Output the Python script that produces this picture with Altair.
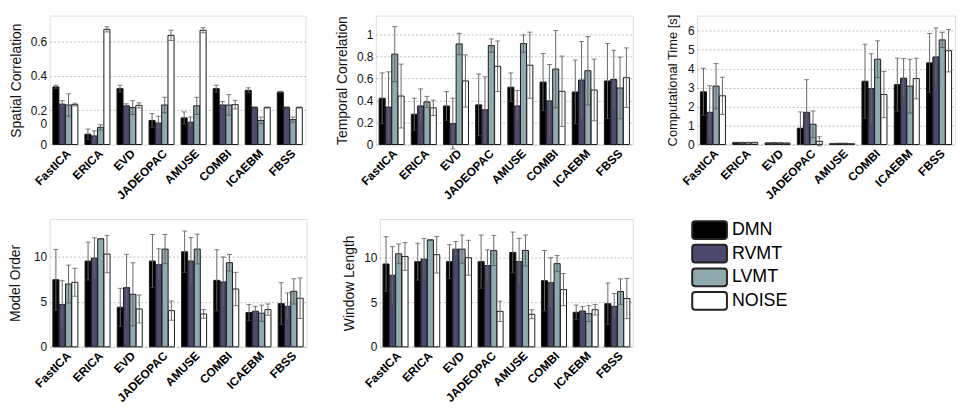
import altair as alt
import pandas as pd

methods = ["FastICA", "ERICA", "EVD", "JADEOPAC", "AMUSE", "COMBI", "ICAEBM", "FBSS"]
groups = ["DMN", "RVMT", "LVMT", "NOISE"]
colors = ["#000000", "#4b4a6c", "#8fa9ae", "#ffffff"]

# rows: DMN, RVMT, LVMT, NOISE ; columns follow `methods`
spatial_mean = [
    [0.335, 0.06, 0.325, 0.14, 0.155, 0.325, 0.315, 0.305],
    [0.235, 0.05, 0.225, 0.125, 0.13, 0.23, 0.215, 0.215],
    [0.23, 0.10, 0.215, 0.23, 0.225, 0.23, 0.14, 0.145],
    [0.232, 0.67, 0.228, 0.635, 0.665, 0.232, 0.215, 0.215],
]
spatial_err = [
    [0.01, 0.03, 0.02, 0.04, 0.035, 0.02, 0.015, 0.004],
    [0.02, 0.03, 0.012, 0.04, 0.03, 0.02, 0.005, 0.005],
    [0.065, 0.015, 0.04, 0.045, 0.05, 0.06, 0.02, 0.015],
    [0.008, 0.015, 0.015, 0.03, 0.015, 0.025, 0.003, 0.003],
]
temporal_mean = [
    [0.42, 0.275, 0.35, 0.36, 0.52, 0.567, 0.477, 0.577],
    [0.34, 0.35, 0.19, 0.315, 0.35, 0.396, 0.585, 0.59],
    [0.82, 0.387, 0.913, 0.898, 0.916, 0.685, 0.67, 0.513],
    [0.44, 0.333, 0.577, 0.71, 0.72, 0.483, 0.495, 0.607],
]
temporal_err = [
    [0.23, 0.145, 0.13, 0.28, 0.13, 0.26, 0.29, 0.34],
    [0.32, 0.155, 0.23, 0.30, 0.14, 0.33, 0.35, 0.265],
    [0.25, 0.05, 0.097, 0.06, 0.078, 0.35, 0.31, 0.28],
    [0.29, 0.07, 0.237, 0.23, 0.30, 0.32, 0.28, 0.27],
]
comp_mean = [
    [2.78, 0.10, 0.08, 0.86, 0.05, 3.34, 3.16, 4.31],
    [1.70, 0.10, 0.09, 1.70, 0.06, 2.95, 3.50, 4.62],
    [3.08, 0.10, 0.08, 1.07, 0.06, 4.50, 3.08, 5.52],
    [2.57, 0.10, 0.07, 0.17, 0.04, 2.64, 3.48, 4.95],
]
comp_err = [
    [1.24, 0.02, 0.02, 0.86, 0.01, 1.95, 1.40, 1.55],
    [1.40, 0.02, 0.02, 1.72, 0.01, 1.84, 1.03, 1.53],
    [1.19, 0.02, 0.02, 0.70, 0.01, 0.97, 1.42, 0.40],
    [0.98, 0.02, 0.02, 0.24, 0.01, 1.22, 1.07, 1.12],
]
order_mean = [
    [7.45, 9.52, 4.39, 9.52, 10.55, 7.38, 3.80, 4.80],
    [4.69, 9.85, 6.57, 9.11, 9.52, 7.20, 3.95, 4.50],
    [6.97, 12.0, 5.83, 10.85, 10.85, 9.34, 3.73, 6.16],
    [7.16, 10.3, 4.20, 4.02, 3.65, 6.42, 4.13, 5.39],
]
order_err = [
    [3.36, 2.10, 2.10, 2.95, 2.30, 3.40, 0.89, 2.32],
    [2.65, 2.25, 3.70, 1.78, 2.60, 2.77, 0.55, 1.48],
    [2.10, 0.0, 3.50, 1.62, 1.66, 0.92, 0.90, 1.40],
    [1.55, 2.07, 1.55, 1.07, 0.48, 1.85, 0.63, 2.25],
]
window_mean = [
    [9.26, 9.52, 9.52, 9.52, 10.55, 7.39, 3.86, 4.82],
    [8.00, 9.80, 10.92, 9.08, 9.52, 7.17, 4.00, 4.52],
    [10.4, 11.95, 10.92, 10.77, 10.77, 9.30, 3.71, 6.18],
    [10.1, 10.3, 9.96, 3.97, 3.64, 6.40, 4.15, 5.40],
]
window_err = [
    [3.05, 2.06, 1.90, 2.98, 2.28, 3.38, 0.81, 2.31],
    [3.20, 2.30, 0.85, 1.77, 2.61, 2.79, 0.49, 1.44],
    [1.10, 0.0, 1.58, 1.69, 1.73, 0.90, 0.89, 1.42],
    [1.55, 2.05, 1.95, 1.14, 0.50, 1.80, 0.59, 2.25],
]

FONT = "Liberation Sans"


def panel(mean, err, title, domain, values, w, h, tpad=7, tsize=14, label_expr=None,
          hide_below=None):
    rows = []
    for gi, g in enumerate(groups):
        for mi, m in enumerate(methods):
            v = mean[gi][mi]
            e = err[gi][mi]
            rows.append(dict(method=m, group=g, mean=v, lo=v - e, hi=v + e))
    df = pd.DataFrame(rows)
    yscale = alt.Scale(domain=domain, nice=False, zero=True)
    grid_color = "#b0b0b0"
    if hide_below is not None:
        grid_color = {"condition": {"test": f"datum.value < {hide_below}", "value": "transparent"},
                      "value": "#b0b0b0"}
    axis_kwargs = dict(
        title=title, values=values, format="~r", grid=True, gridDash=[2, 2],
        gridColor=grid_color, gridWidth=0.8, ticks=False, domain=False,
        labelOverlap=False, labelFontSize=12, labelColor="#111", labelPadding=3,
        titleFontSize=tsize, titleFontWeight="normal", titleColor="#111", titlePadding=tpad,
        labelFont=FONT, titleFont=FONT,
    )
    if label_expr:
        axis_kwargs["labelExpr"] = label_expr
    yaxis = alt.Axis(**axis_kwargs)
    base = alt.Chart(df).encode(
        x=alt.X("method:N", sort=methods,
                scale=alt.Scale(paddingInner=0.22, paddingOuter=0.1),
                axis=alt.Axis(title=None, labelAngle=-45, labelFontWeight="bold",
                              labelFontSize=12, labelColor="#000", ticks=False,
                              domain=False, labelFont=FONT, labelPadding=3)),
        xOffset=alt.XOffset("group:N", sort=groups, scale=alt.Scale(paddingInner=0.04)),
    )
    bars = base.mark_bar(stroke="#1a1a1a", strokeWidth=1).encode(
        y=alt.Y("mean:Q", scale=yscale, axis=yaxis, title=title),
        color=alt.Color("group:N", scale=alt.Scale(domain=groups, range=colors), legend=None),
    )
    whisk = base.mark_rule(color="#666666", strokeWidth=1).encode(
        y=alt.Y("lo:Q", scale=yscale, axis=yaxis, title=title), y2="hi:Q")
    cap_hi = base.mark_tick(color="#4a4a4a", size=5, thickness=1, orient="horizontal").encode(
        y=alt.Y("hi:Q", scale=yscale, axis=yaxis, title=title))
    cap_lo = base.mark_tick(color="#4a4a4a", size=5, thickness=1, orient="horizontal").encode(
        y=alt.Y("lo:Q", scale=yscale, axis=yaxis, title=title))
    return alt.layer(bars, whisk, cap_hi, cap_lo).properties(width=w, height=h)


p1 = panel(spatial_mean, spatial_err, "Spatial Correlation", [0, 0.75],
           [0, 0.12, 0.2, 0.4, 0.6], 258, 130,
           label_expr="datum.value == 0.12 ? '0' : datum.label", hide_below=0.15)
p2 = panel(temporal_mean, temporal_err, "Temporal Correlation", [0, 1.17],
           [0, 0.2, 0.4, 0.6, 0.8, 1], 259, 130)
p3 = panel(comp_mean, comp_err, "Computational Time [s]", [0, 6.8],
           [0, 1, 2, 3, 4, 5, 6], 260, 130, tpad=8, tsize=13)
p4 = panel(order_mean, order_err, "Model Order", [0, 14.2], [0, 5, 10], 259, 129, tpad=11)
p5 = panel(window_mean, window_err, "Window Length", [0, 14.3], [0, 5, 10], 255, 129)

leg_df = pd.DataFrame({"group": groups})
leg_y = alt.Y("group:N", sort=groups, axis=None,
              scale=alt.Scale(paddingInner=0.25, paddingOuter=0.1))
leg_rect = alt.Chart(leg_df).mark_rect(cornerRadius=3, stroke="#222", strokeWidth=2).encode(
    y=leg_y, x=alt.value(38), x2=alt.value(73),
    color=alt.Color("group:N", scale=alt.Scale(domain=groups, range=colors), legend=None),
)
leg_text = alt.Chart(leg_df).mark_text(align="left", baseline="middle", fontSize=18,
                                       font=FONT, color="#000").encode(
    y=leg_y, x=alt.value(78), text="group:N")
legend = alt.layer(leg_rect, leg_text).properties(
    width=150, height=94, view=alt.ViewBackground(stroke="transparent"))

top = alt.hconcat(alt.hconcat(p1, p2, spacing=28), p3, spacing=32)
bottom = alt.hconcat(alt.hconcat(p4, p5, spacing=35), legend, spacing=20)
chart = alt.vconcat(top, bottom, spacing=16).properties(
    padding={"left": 0, "top": 3, "right": 0, "bottom": 0}
).configure_view(stroke="#8a8a8a", strokeWidth=1.5).configure(background="white")

chart.save("out.html", embed_options={"renderer": "svg", "actions": False})
